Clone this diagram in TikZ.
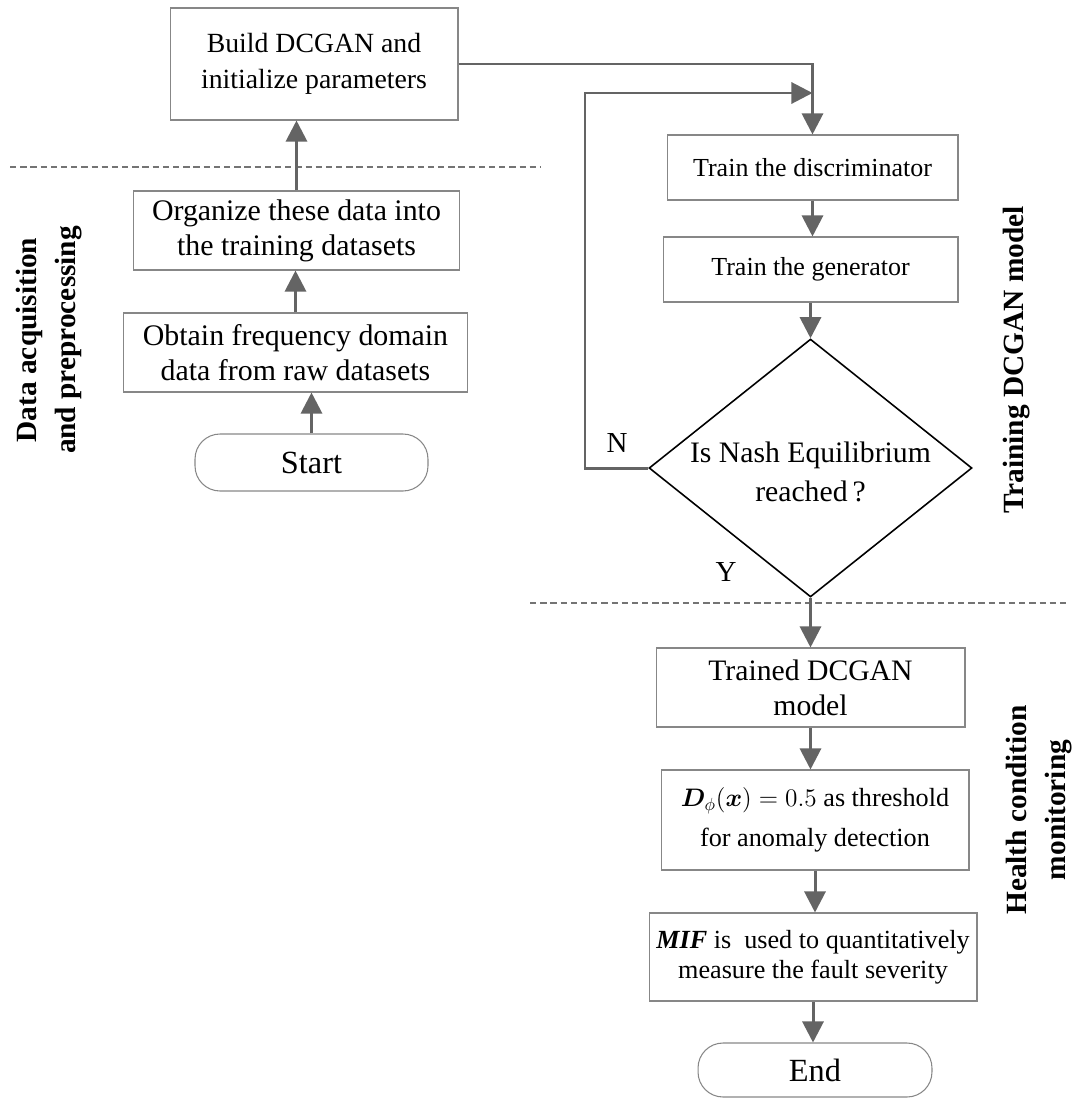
\documentclass[tikz,border=0pt]{standalone}
\usepackage{fontspec}
\setmainfont{Liberation Serif}
\usepackage{amsmath}
\usepackage{bm}
\usepackage{xcolor}
\definecolor{box-gray}{RGB}{135,135,135}
\definecolor{arrow-gray}{RGB}{100,100,100}
\usetikzlibrary{shapes.geometric,arrows.meta,calc}

\newcommand{\fsz}[2]{\fontsize{#1}{#2}\selectfont}

\tikzset{
	box/.style={draw=box-gray,line width=0.6pt,align=center,inner sep=0pt},
	pill/.style={box,rounded corners=0.5cm},
	flow/.style={->,draw=arrow-gray,line width=1.7pt},
	sep/.style={draw=arrow-gray!90,line width=1.2pt,dash pattern=on 3.6pt off 2.2pt},
	side/.style={rotate=90,align=center,font=\bfseries\fsz{16.7}{22.7}}
}

\begin{document}
\begin{tikzpicture}[x=0.02cm,y=-0.02cm,
	>={Triangle[length=12pt,width=12pt]}]
	\useasboundingbox (0,0) rectangle (1074,1099);
	
	% left column
	\path 
		(314,64)      node[box,minimum width=5.76cm,minimum height=2.24cm,
		               font=\fsz{15.8}{20.4}] (build)
		               {Build DCGAN and\\initialize parameters}
		(296.5,230.5) node[box,minimum width=6.54cm,minimum height=1.58cm,
		               font=\fsz{17}{19.8}] (organize)
		               {Organize these data into\\the training datasets}
		(295.5,352.5) node[box,minimum width=6.9cm,minimum height=1.58cm,
		               font=\fsz{17}{19.8}] (obtain)
		               {Obtain frequency domain\\data from raw datasets}
		(311.5,462.5) node[pill,minimum width=4.66cm,minimum height=1.14cm,
		               font=\fsz{18.4}{22}] (start) {Start};
	
	% right column
	\path 
		(812.5,167.5) node[box,minimum width=5.82cm,minimum height=1.3cm,
		               font=\fsz{14.8}{18}] (disc) {Train the discriminator}
		(810.5,269.5) node[box,minimum width=5.9cm,minimum height=1.3cm,
		               font=\fsz{14.8}{18}] (gen) {Train the generator}
		(810.5,468)   node[diamond,draw=black,line width=0.9pt,inner sep=0pt,
		               minimum width=6.46cm,minimum height=5.16cm] (nash) {}
		(810.5,472)   node[align=center,font=\fsz{16.9}{22}] (nashtext)
		               {Is Nash Equilibrium\\reached\,?}
		(810.5,687.5) node[box,minimum width=6.18cm,minimum height=1.58cm,
		               font=\fsz{16.9}{19.8}] (trained) {Trained DCGAN\\model}
		(815,820)     node[box,minimum width=6.16cm,minimum height=2cm,
		               font=\fsz{14.9}{22.7}] (thresh)
		               {$\bm{D}_{\phi}(\bm{x})=0.5$ as threshold\\for anomaly detection}
		(813,957)     node[box,minimum width=6.56cm,minimum height=1.76cm,
		               font=\fsz{14.9}{17}] (mif)
		               {\textbf{\textit{MIF}} is\ \ used to quantitatively\\measure the fault severity}
		(815,1070)    node[pill,minimum width=4.68cm,minimum height=1.08cm,
		               font=\fsz{18.4}{22}] (end) {End};
	
	% phase separators
	\draw[sep] (10,167) -- (540,167);
	\draw[sep] (530,603) -- (1070,603);
	
	% upward arrows
	\foreach \a/\b in {start/obtain,obtain/organize,organize/build}{
		\draw[flow] (\a.north) -- (\a.north |- \b.south);
	}
	% downward arrows
	\foreach \a/\b in {disc/gen,gen/nash,nash/trained,trained/thresh,thresh/mif,mif/end}{
		\draw[flow] (\a.south) -- (\a.south |- \b.north);
	}
	
	\draw[flow] (build.east) -- (build.east -| disc.north) -- (disc.north);
	\coordinate (back) at (585,93);
	\draw[flow] (nash.west) -| (back) -- (back -| disc.north);
	
	\path 
		(617,443) node[font=\fsz{16.5}{20}] (no) {N}
		(726,572) node[font=\fsz{16.5}{20}] (yes) {Y};
	
	% phase titles
	\path 
		(49,340)   node[side] (acq) {Data acquisition\\and preprocessing}
		(1017,360) node[side] (trainlab) {Training DCGAN model}
		(1039,810) node[side] (health) {Health condition\\monitoring};
\end{tikzpicture}
\end{document}
